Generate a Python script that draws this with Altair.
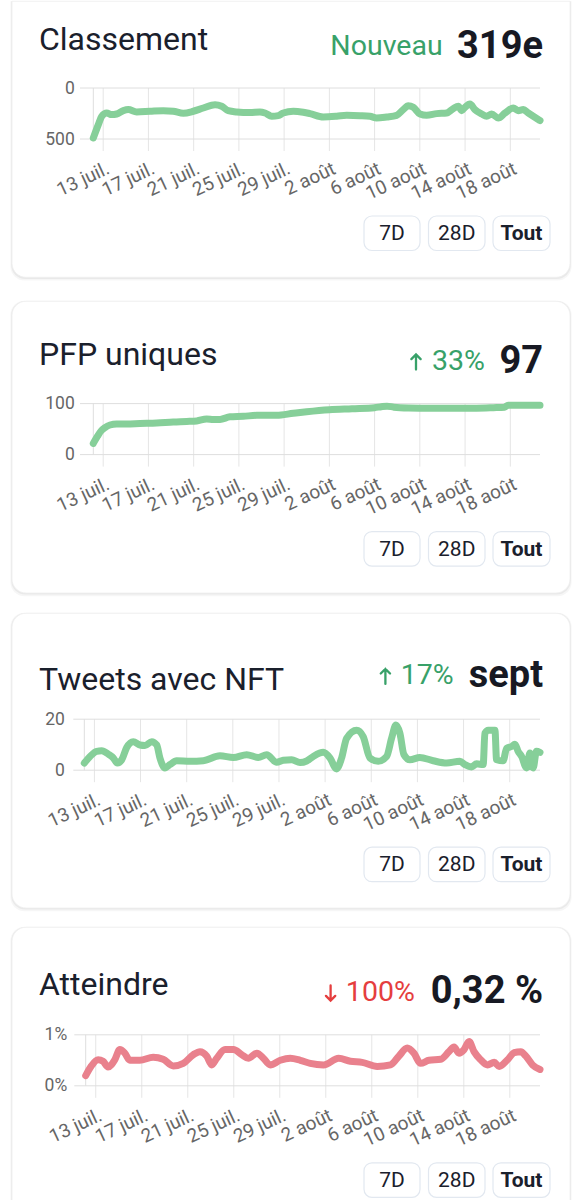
import json

import altair as alt
import pandas as pd

FONT = "Roboto"
# Day numbers count from 1 July (day 1); 1 August is day 32.
DAY_ZERO = pd.Timestamp("2022-06-30")

# ---- Classement (rank, lower is better) ----
RANK_DAYS = [12.125, 12.57, 12.87, 13.31, 13.75, 14.19, 14.78, 15.22, 15.96, 17.14,
             18.31, 19.20, 20.08, 20.97, 21.85, 22.89, 23.48, 24.06, 24.80, 25.98,
             26.86, 27.31, 27.90, 28.48, 28.92, 29.81, 30.69, 31.28, 32.46, 33.65,
             34.53, 35.71, 36.59, 37.18, 38.07, 38.95, 39.53, 39.98, 40.42, 41.01,
             41.60, 42.49, 43.37, 43.96, 44.40, 44.70, 44.99, 45.43, 45.87, 46.47,
             46.91, 47.35, 47.93, 48.53, 49.26, 49.70, 50.15, 50.59, 51.03, 51.625]
RANK_VALUES = [490, 359, 277, 245, 261, 255, 222, 212, 235, 228,
               222, 228, 248, 228, 196, 163, 179, 222, 235, 241,
               235, 245, 277, 271, 245, 228, 238, 251, 284, 277,
               268, 271, 277, 294, 284, 268, 212, 173, 189, 255,
               268, 251, 245, 202, 179, 222, 189, 157, 212, 255,
               277, 255, 294, 245, 196, 222, 212, 245, 277, 319]

# ---- PFP uniques ----
PFP_DAYS = [12.125, 12.5, 12.8, 13.16, 13.6, 14.19, 15.08, 16.25, 17.73, 19.2,
            20.38, 21.27, 22.15, 22.74, 23.33, 24.21, 25.39, 26.57, 28.34, 29.81,
            30.99, 33.0, 35.0, 37.0, 37.6, 38.1, 38.7, 40.0, 42.0, 44.0,
            46.0, 47.5, 48.5, 48.8, 50.0, 51.625]
PFP_VALUES = [22, 36, 46, 53, 58, 60, 60, 61, 62, 64,
              65, 66, 70, 69, 69, 74, 75, 77, 77, 81,
              84, 88, 90, 92, 94, 95, 93, 91.5, 91, 91,
              91, 92, 93, 97, 97, 97]

# ---- Tweets avec NFT ----
TWEET_DAYS = [12.125, 12.62, 13.2, 13.63, 14.2, 14.64, 14.99, 15.37, 15.8, 16.37,
              16.95, 17.38, 17.97, 18.4, 18.68, 19.12, 19.55, 20.13, 21.28, 22.44,
              23.88, 25.04, 26.2, 27.2, 27.93, 28.8, 29.37, 30.1, 30.82, 31.4,
              31.97, 32.84, 33.42, 33.99, 34.43, 34.86, 35.73, 36.3, 36.88, 37.6,
              38.33, 38.76, 39.14, 39.48, 39.83, 40.35, 41.21, 42.37, 43.53, 44.68,
              45.12, 45.69, 46.13, 46.7, 46.85, 47.14, 47.72, 47.86, 48.43, 48.73,
              49.16, 49.45, 49.73, 50.03, 50.46, 50.75, 51.03, 51.32, 51.625]
TWEET_VALUES = [2.8, 5.4, 7.4, 7.6, 6.3, 4.8, 2.8, 4.1, 8.9, 11.2,
                9.9, 9.7, 11.2, 9.9, 4.8, 0.9, 2.2, 3.7, 3.5, 3.7,
                5.7, 5.0, 6.1, 5.0, 6.1, 3.1, 3.9, 4.1, 3.0, 3.6,
                5.4, 7.0, 4.8, 0.5, 4.8, 12.5, 15.7, 13.2, 4.8, 3.5,
                5.4, 12.5, 17.7, 14.5, 6.1, 4.1, 5.0, 3.7, 2.8, 3.5,
                2.2, 1.3, 2.5, 2.2, 14.5, 15.7, 15.7, 4.1, 3.7, 8.6,
                9.3, 10.2, 7.4, 5.4, 0.9, 6.7, 0.9, 7.4, 7.0]

# ---- Atteindre (reach, in %) ----
REACH_DAYS = [12.125, 12.62, 13.2, 13.63, 14.07, 14.65, 15.09, 15.52, 15.96, 16.83,
              17.99, 18.86, 19.74, 20.61, 21.48, 22.06, 22.65, 23.08, 23.52, 24.24,
              24.97, 25.7, 26.27, 27.01, 27.58, 28.17, 29.04, 29.91, 30.78, 31.65,
              32.81, 34.12, 35.14, 36.16, 37.47, 38.63, 39.35, 40.08, 40.66, 41.24,
              41.97, 42.99, 43.71, 44.15, 44.58, 45.02, 45.46, 45.89, 46.47, 47.06,
              47.64, 48.07, 48.8, 49.38, 49.96, 50.4, 50.98, 51.625]
REACH_VALUES = [0.20, 0.39, 0.51, 0.48, 0.37, 0.51, 0.71, 0.64, 0.50, 0.50,
                0.56, 0.52, 0.39, 0.44, 0.61, 0.67, 0.58, 0.41, 0.54, 0.71,
                0.71, 0.61, 0.54, 0.64, 0.54, 0.41, 0.50, 0.54, 0.50, 0.44,
                0.41, 0.54, 0.48, 0.46, 0.38, 0.41, 0.58, 0.74, 0.64, 0.44,
                0.50, 0.52, 0.67, 0.76, 0.64, 0.71, 0.87, 0.67, 0.51, 0.41,
                0.46, 0.38, 0.51, 0.65, 0.67, 0.58, 0.41, 0.32]

# x axis ticks (month, day) and month names for the labels
TICK_DATES = [(7, 13), (7, 17), (7, 21), (7, 25), (7, 29),
              (8, 2), (8, 6), (8, 10), (8, 14), (8, 18)]
MONTH_LABELS = ["juil.", "août"]  # July, August
BUTTONS = ["7D", "28D", "Tout"]

# ---- styling ----
PAGE_W, PAGE_H = 581, 1200
P_LEFT = 76          # left edge of every plot area on the page
W, H = 464, 51       # plot area size
TICK_LEN = 12
PLOT_TOPS = [86.7, 402.3, 717.9, 1033.5]
SPACING = PLOT_TOPS[1] - PLOT_TOPS[0] - H
CARD_X0, CARD_X1, CARD_R = 12, 570, 14
BTN_X = [(364, 420), (428.5, 485), (493, 550)]
BTN_Y = (128, 162.5)

TEXT_DARK = "#1a202c"
VALUE_DARK = "#171923"
GREEN = "#38a169"
RED = "#e53e3e"
LINE_GREEN = "#86cf99"
LINE_RED = "#e9818d"
GRID = "#dedede"
GRID_V = "#e5e5e5"
AXIS_LABEL = "#666666"
BTN_BORDER = "#e2e8f0"

UP = "M0,1L0,-1M-0.62,-0.38L0,-1L0.62,-0.38"
DOWN = "M0,-1L0,1M-0.62,0.38L0,1L0.62,0.38"


def frame(days, values):
    return pd.DataFrame({
        "time": DAY_ZERO + pd.to_timedelta(days, unit="D"),
        "value": values,
    })


TICK_FRAME = pd.DataFrame({
    "time": [pd.Timestamp(year=2022, month=m, day=d) for m, d in TICK_DATES]
})

CARDS = [
    dict(title="Classement", change="Nouveau", change_color=GREEN, arrow=None,
         value="319e", data=frame(RANK_DAYS, RANK_VALUES), domain=[0, 500],
         reverse=True, yticks=[0, 500], suffix="", line=LINE_GREEN,
         border=93.3, grid_x=80, label_right=74.3,
         title_y=-38.4, change_y=-33.4, value_y=-30.0, change_right=442.6,
         arrow_x=None, arrow_y=None, card=(-110, 189.3)),
    dict(title="PFP uniques", change="33%", change_color=GREEN, arrow=UP,
         value="97", data=frame(PFP_DAYS, PFP_VALUES), domain=[0, 100],
         reverse=False, yticks=[0, 100], suffix="", line=LINE_GREEN,
         border=93.3, grid_x=80, label_right=74.3,
         title_y=-39.0, change_y=-34.0, value_y=-30.6, change_right=485,
         arrow_x=416, arrow_y=-41.6, card=(-102.3, 189.4)),
    dict(title="Tweets avec NFT", change="17%", change_color=GREEN, arrow=UP,
         value="sept", data=frame(TWEET_DAYS, TWEET_VALUES), domain=[0, 20],
         reverse=False, yticks=[0, 20], suffix="", line=LINE_GREEN,
         border=84.3, grid_x=73.3, label_right=64.3,
         title_y=-29.6, change_y=-35.2, value_y=-31.9, change_right=453.7,
         arrow_x=385.4, arrow_y=-42.8, card=(-105.9, 188.8)),
    dict(title="Atteindre", change="100%", change_color=RED, arrow=DOWN,
         value="0,32 %", data=frame(REACH_DAYS, REACH_VALUES), domain=[0, 1],
         reverse=False, yticks=[0, 1], suffix="%", line=LINE_RED,
         border=85.7, grid_x=74.3, label_right=66.7,
         title_y=-39.5, change_y=-34.2, value_y=-31.8, change_right=414.8,
         arrow_x=330.6, arrow_y=-41.8, card=(-107.5, 189.0)),
]

X_TICKS = [alt.DateTime(year=2022, month=m, date=d) for m, d in TICK_DATES]
X_DOMAIN = [alt.DateTime(year=2022, month=7, date=12, hours=3),
            alt.DateTime(year=2022, month=8, date=20, hours=15)]
X_LABELS = ("date(datum.value) + ' ' + "
            + json.dumps(MONTH_LABELS, ensure_ascii=False)
            + "[month(datum.value) - 6]")


def px(page_x):
    return page_x - P_LEFT


def panel(idx, c):
    top = PLOT_TOPS[idx]
    one = alt.Chart(pd.DataFrame({"k": [0]}))
    layers = []

    if idx == 0:
        layers.append(one.mark_rect(color="#ffffff").encode(
            x=alt.value(-P_LEFT), x2=alt.value(PAGE_W - P_LEFT),
            y=alt.value(-top), y2=alt.value(PAGE_H - top)))

    # card with a soft shadow
    ct = max(c["card"][0], -top)
    cb = min(c["card"][1], PAGE_H - top)
    r_top = 0 if ct == -top else CARD_R
    r_bot = 0 if cb == PAGE_H - top else CARD_R
    for grow, drop, op in [(1.6, 3.2, 0.035), (0.8, 1.6, 0.05)]:
        layers.append(one.mark_rect(
            color="#000000", opacity=op,
            cornerRadiusTopLeft=r_top, cornerRadiusTopRight=r_top,
            cornerRadiusBottomLeft=r_bot, cornerRadiusBottomRight=r_bot,
        ).encode(
            x=alt.value(px(CARD_X0) - grow), x2=alt.value(px(CARD_X1) + grow),
            y=alt.value(ct if r_top == 0 else ct - grow * 0.4),
            y2=alt.value(min(cb + drop, PAGE_H - top))))
    layers.append(one.mark_rect(
        color="#ffffff", stroke="#efefef", strokeWidth=0.8,
        cornerRadiusTopLeft=r_top, cornerRadiusTopRight=r_top,
        cornerRadiusBottomLeft=r_bot, cornerRadiusBottomRight=r_bot,
    ).encode(x=alt.value(px(CARD_X0)), x2=alt.value(px(CARD_X1)),
             y=alt.value(ct), y2=alt.value(cb)))

    yscale = alt.Scale(domain=c["domain"], reverse=c["reverse"], nice=False)
    xscale = alt.Scale(domain=X_DOMAIN, range=[px(c["border"]), W], nice=False)

    # vertical grid lines, running on below the plot as tick marks
    layers.append(alt.Chart(TICK_FRAME).mark_rule(
        color=GRID_V, strokeWidth=1).encode(
        x=alt.X("time:T", scale=xscale),
        y=alt.value(0), y2=alt.value(H + TICK_LEN)))
    # horizontal grid lines and the left border of the plot
    layers.append(alt.Chart(pd.DataFrame({"tick": c["yticks"]})).mark_rule(
        color=GRID, strokeWidth=1).encode(
        y=alt.Y("tick:Q", scale=yscale),
        x=alt.value(px(c["grid_x"])), x2=alt.value(W)))
    layers.append(one.mark_rule(color=GRID, strokeWidth=1).encode(
        x=alt.value(px(c["border"])), y=alt.value(0), y2=alt.value(H)))

    y_axis_kw = dict(values=c["yticks"], domain=False, ticks=False, grid=False,
                     labelPadding=P_LEFT - c["label_right"], labelFontSize=17.5,
                     labelColor=AXIS_LABEL, labelFont=FONT, title=None,
                     labelFlush=False, labelOverlap=False, zindex=1)
    if c["suffix"]:
        y_axis_kw["labelExpr"] = "datum.value + '" + c["suffix"] + "'"

    # rotated date labels, anchored at the right end of their baseline
    x_axis = alt.Axis(values=X_TICKS, labelExpr=X_LABELS, labelAngle=-25,
                      labelAlign="right", labelBaseline="alphabetic",
                      labelPadding=33.5, labelOffset=7, labelFontSize=19,
                      labelColor=AXIS_LABEL, labelFont=FONT,
                      ticks=False, grid=False, domain=False, title=None,
                      labelOverlap=False, labelFlush=False, labelBound=False,
                      zindex=1)

    layers.append(alt.Chart(c["data"]).mark_line(
        color=c["line"], strokeWidth=7, interpolate="monotone",
        strokeCap="round", strokeJoin="round").encode(
        x=alt.X("time:T", scale=xscale, axis=x_axis),
        y=alt.Y("value:Q", scale=yscale, axis=alt.Axis(**y_axis_kw))))

    # header: title, change and current value
    layers.append(one.mark_text(
        text=c["title"], font=FONT, fontSize=32, color=TEXT_DARK,
        align="left", baseline="alphabetic").encode(
        x=alt.value(px(39)), y=alt.value(c["title_y"])))
    layers.append(one.mark_text(
        text=c["change"], font=FONT, fontSize=28.5, color=c["change_color"],
        align="right", baseline="alphabetic").encode(
        x=alt.value(px(c["change_right"])), y=alt.value(c["change_y"])))
    if c["arrow"]:
        layers.append(one.mark_point(
            shape=c["arrow"], size=225, filled=False, opacity=1,
            stroke=c["change_color"], strokeWidth=2.3, strokeCap="round").encode(
            x=alt.value(px(c["arrow_x"])), y=alt.value(c["arrow_y"])))
    layers.append(one.mark_text(
        text=c["value"], font=FONT, fontSize=38, fontWeight="bold",
        color=VALUE_DARK, align="right", baseline="alphabetic").encode(
        x=alt.value(px(543)), y=alt.value(c["value_y"])))

    # range buttons
    for label, (bx0, bx1) in zip(BUTTONS, BTN_X):
        layers.append(one.mark_rect(
            color="#ffffff", stroke=BTN_BORDER, strokeWidth=1.2,
            cornerRadius=8).encode(
            x=alt.value(px(bx0)), x2=alt.value(px(bx1)),
            y=alt.value(BTN_Y[0]), y2=alt.value(BTN_Y[1])))
        layers.append(one.mark_text(
            text=label, font=FONT, fontSize=21, color=TEXT_DARK,
            fontWeight="bold" if label == "Tout" else "normal",
            align="center", baseline="middle").encode(
            x=alt.value(px((bx0 + bx1) / 2)),
            y=alt.value((BTN_Y[0] + BTN_Y[1]) / 2 + 1)))

    return alt.layer(*layers).properties(width=W, height=H)


chart = alt.vconcat(
    *[panel(i, c) for i, c in enumerate(CARDS)],
    spacing=SPACING, bounds="flush", padding=0,
).configure(font=FONT).configure_view(strokeWidth=0)

chart.save("out.html", embed_options={"renderer": "svg", "actions": False})
